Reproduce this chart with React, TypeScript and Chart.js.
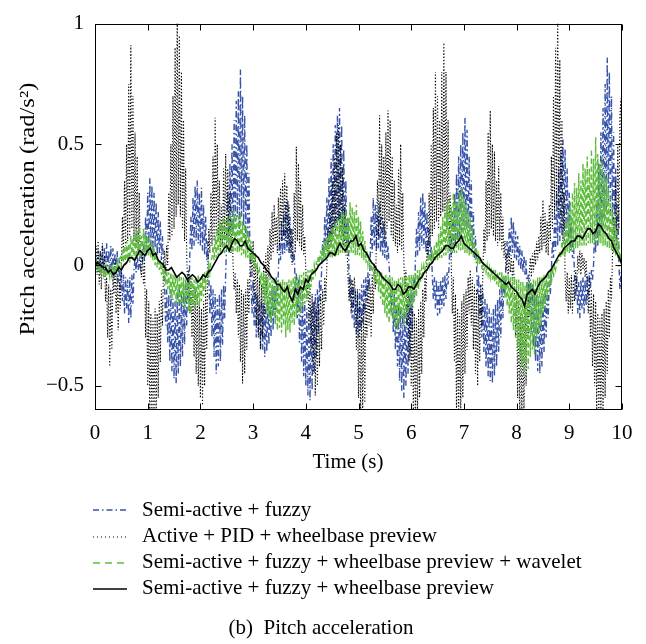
import React, { useEffect, useRef } from "react";
import { Chart, registerables } from "chart.js";

Chart.register(...registerables);

// sampling steps of the recorded signals (s)
const DT_FAST = 0.02;
const DT_SLOW = 0.05;

const X_TICKS = [0, 1, 2, 3, 4, 5, 6, 7, 8, 9, 10];
const Y_TICKS = [-0.5, 0, 0.5, 1];
const Y_TICK_LABELS = ["\u22120.5", "0", "0.5", "1"];

const X_TITLE = "Time (s)";
const Y_TITLE = "Pitch acceleration (rad/s\u00b2)";
const CAPTION = "(b)  Pitch acceleration";

const SERIES_NAMES = [
  "Semi-active + fuzzy",
  "Active + PID + wheelbase preview",
  "Semi-active + fuzzy + wheelbase preview + wavelet",
  "Semi-active + fuzzy + wheelbase preview",
];

// Semi-active + fuzzy (blue, dash-dot), step 0.02 s, one row = 0.5 s
const BLUE_FUZZY = [
  0, 0.04, -0.02, 0.06, -0.03, 0.05, -0.04, 0.08, -0.02, 0.07, -0.05, 0.09, -0.03, 0.06, -0.04, 0.08, -0.05, 0.07, -0.06, 0.05, -0.04, 0.06, -0.07, 0.03, -0.1,
  -0.02, -0.15, -0.04, -0.2, -0.05, -0.18, -0.06, -0.24, -0.05, -0.22, -0.04, -0.16, -0.02, 0.03, -0.03, 0.04, -0.02, 0.02, -0.01, 0.05, 0.01, 0.08, 0.02, 0.2, 0.05,
  0.3, 0.06, 0.36, 0.08, 0.33, 0.05, 0.3, 0.07, 0.26, 0.04, 0.22, 0.05, 0.18, 0.02, 0.12, 0.0, -0.08, -0.25, -0.1, -0.32, -0.12, -0.4, -0.1, -0.44, -0.14,
  -0.47, -0.15, -0.49, -0.12, -0.45, -0.1, -0.42, -0.12, -0.38, -0.08, -0.33, -0.06, -0.25, -0.04, -0.15, 0.05, 0.2, 0.06, 0.28, 0.08, 0.33, 0.1, 0.35, 0.09, 0.3,
  0.08, 0.32, 0.06, 0.25, 0.04, 0.2, 0.02, 0.1, -0.05, -0.2, -0.08, -0.3, -0.1, -0.38, -0.12, -0.45, -0.14, -0.42, -0.12, -0.4, -0.1, -0.33, -0.08, -0.22, -0.03,
  0.1, 0.3, 0.12, 0.42, 0.15, 0.5, 0.14, 0.6, 0.18, 0.68, 0.2, 0.72, 0.15, 0.81, 0.2, 0.7, 0.16, 0.62, 0.12, 0.5, 0.1, 0.38, 0.05, -0.08, -0.2,
  -0.06, -0.25, -0.1, -0.3, -0.12, -0.28, -0.15, -0.34, -0.14, -0.35, -0.16, -0.38, -0.18, -0.36, -0.14, -0.33, -0.12, -0.3, -0.1, -0.27, -0.08, -0.22, -0.05, -0.15, -0.02,
  0.1, 0.02, 0.18, 0.04, 0.22, 0.05, 0.25, 0.06, 0.27, 0.05, 0.2, 0.03, 0.15, 0.01, 0.06, -0.1, -0.03, -0.22, -0.06, -0.32, -0.1, -0.4, -0.12, -0.46, -0.15,
  -0.5, -0.18, -0.54, -0.2, -0.56, -0.17, -0.52, -0.15, -0.45, -0.12, -0.38, -0.1, -0.28, -0.06, -0.15, -0.02, 0.1, 0.03, 0.2, 0.06, 0.28, 0.08, 0.36, 0.1, 0.44,
  0.12, 0.5, 0.15, 0.58, 0.16, 0.62, 0.18, 0.65, 0.15, 0.58, 0.12, 0.48, 0.1, 0.35, 0.06, 0.2, -0.05, -0.15, -0.06, -0.22, -0.08, -0.26, -0.1, -0.28, -0.12,
  -0.3, -0.1, -0.27, -0.08, -0.24, -0.06, -0.2, -0.05, -0.15, -0.03, -0.1, 0.0, 0.2, 0.05, 0.28, 0.08, 0.25, 0.06, 0.22, 0.07, 0.26, 0.05, 0.2, 0.04, 0.18,
  0.03, 0.14, 0.02, 0.08, 0.0, -0.08, -0.2, -0.1, -0.28, -0.12, -0.35, -0.14, -0.42, -0.16, -0.48, -0.18, -0.52, -0.2, -0.55, -0.18, -0.5, -0.15, -0.45, -0.12, -0.38,
  -0.1, -0.28, -0.05, -0.15, 0.02, 0.15, 0.04, 0.22, 0.06, 0.28, 0.08, 0.3, 0.07, 0.26, 0.05, 0.22, 0.04, 0.15, 0.02, 0.08, -0.04, -0.14, -0.05, -0.18, -0.06,
  -0.21, -0.07, -0.2, -0.06, -0.18, -0.05, -0.17, -0.04, -0.14, -0.03, -0.08, 0.0, 0.12, 0.04, 0.22, 0.06, 0.3, 0.08, 0.38, 0.1, 0.45, 0.12, 0.5, 0.14, 0.55,
  0.15, 0.61, 0.16, 0.56, 0.12, 0.45, 0.1, 0.35, 0.06, 0.22, 0.03, 0.12, 0.0, -0.12, -0.04, -0.22, -0.08, -0.3, -0.1, -0.36, -0.14, -0.42, -0.16, -0.46, -0.18,
  -0.48, -0.2, -0.49, -0.18, -0.46, -0.16, -0.42, -0.14, -0.36, -0.1, -0.3, -0.08, -0.22, -0.05, -0.12, 0.02, 0.1, 0.03, 0.15, 0.04, 0.2, 0.05, 0.18, 0.03, 0.14,
  0.02, 0.12, 0.0, 0.08, -0.02, 0.06, -0.03, 0.04, -0.04, 0.02, -0.12, -0.04, -0.2, -0.06, -0.28, -0.08, -0.34, -0.1, -0.4, -0.12, -0.44, -0.15, -0.45, -0.14, -0.42,
  -0.12, -0.36, -0.1, -0.3, -0.08, -0.22, -0.05, -0.12, -0.02, 0.1, 0.03, 0.2, 0.06, 0.3, 0.08, 0.4, 0.1, 0.47, 0.12, 0.52, 0.14, 0.48, 0.12, 0.4, 0.1,
  0.3, 0.06, 0.2, 0.03, 0.1, -0.06, -0.14, -0.05, -0.2, -0.07, -0.22, -0.06, -0.18, -0.05, -0.2, -0.06, -0.17, -0.04, -0.14, -0.03, -0.1, -0.02, -0.06, 0.0, 0.15,
  0.05, 0.3, 0.08, 0.42, 0.12, 0.55, 0.15, 0.65, 0.2, 0.75, 0.22, 0.86, 0.25, 0.8, 0.22, 0.7, 0.18, 0.55, 0.12, 0.4, 0.08, 0.25, 0.02, -0.1, -0.03,
  -0.16,
];

// Active + PID + wheelbase preview (black, dotted), step 0.02 s, one row = 0.5 s
const DOTTED_PID = [
  0.0, 0.08, -0.04, 0.1, -0.08, 0.06, -0.1, 0.09, -0.05, 0.04, -0.15, -0.05, -0.3, -0.08, -0.42, -0.1, -0.35, -0.05, -0.12, 0.02, -0.2, -0.04, -0.27, -0.06, -0.18,
  -0.02, 0.2, 0.05, 0.35, 0.08, 0.5, 0.1, 0.75, 0.12, 0.91, 0.15, 0.7, 0.1, 0.55, 0.08, 0.45, 0.05, 0.3, 0.02, -0.05, 0.05, -0.08, 0.02, -0.3, -0.1,
  -0.5, -0.15, -0.65, -0.2, -0.65, -0.22, -0.65, -0.18, -0.65, -0.2, -0.55, -0.15, -0.4, -0.1, -0.25, 0.0, 0.06, -0.04, 0.08, 0.0, 0.3, 0.1, 0.5, 0.12, 0.7,
  0.15, 0.9, 0.2, 1.05, 0.25, 0.95, 0.2, 0.8, 0.15, 0.6, 0.1, 0.4, 0.05, -0.1, -0.02, -0.2, -0.05, -0.3, -0.08, -0.38, -0.1, -0.45, -0.12, -0.5, -0.15,
  -0.55, -0.18, -0.58, -0.15, -0.5, -0.1, -0.35, -0.02, 0.15, 0.05, 0.3, 0.08, 0.45, 0.1, 0.61, 0.12, 0.5, 0.1, 0.35, 0.06, 0.25, 0.08, 0.4, 0.1, 0.46,
  0.12, 0.4, 0.08, 0.3, 0.05, 0.18, 0.0, -0.1, -0.03, -0.2, -0.06, -0.3, -0.08, -0.4, -0.1, -0.49, -0.12, -0.45, -0.1, -0.35, -0.06, -0.2, -0.02, 0.08, -0.05,
  0.1, -0.15, 0.05, -0.25, 0.0, -0.3, -0.05, -0.35, -0.08, -0.3, 0.02, -0.22, 0.05, -0.12, 0.08, -0.05, 0.15, 0.02, 0.22, 0.05, 0.25, 0.08, 0.2, 0.05, 0.28,
  0.08, 0.32, 0.1, 0.35, 0.12, 0.38, 0.1, 0.33, 0.08, 0.25, 0.05, 0.15, 0.0, 0.1, 0.3, 0.05, 0.49, 0.1, 0.42, 0.08, 0.35, 0.06, 0.25, 0.04, 0.12,
  -0.02, -0.15, -0.05, -0.25, -0.08, -0.35, -0.12, -0.45, -0.15, -0.54, -0.18, -0.5, -0.15, -0.42, -0.12, -0.35, -0.1, -0.25, -0.05, -0.15, 0.0, 0.15, 0.05, 0.25, 0.08,
  0.35, 0.1, 0.45, 0.12, 0.55, 0.15, 0.58, 0.12, 0.5, 0.1, 0.4, 0.08, 0.25, 0.04, 0.1, -0.05, -0.15, -0.04, -0.2, -0.06, -0.18, -0.05, -0.12, -0.35, -0.1,
  -0.55, -0.15, -0.65, -0.2, -0.62, -0.15, -0.57, -0.1, -0.3, -0.05, -0.25, -0.08, -0.3, -0.04, -0.2, 0.0, -0.1, 0.1, 0.35, 0.12, 0.62, 0.15, 0.5, 0.12, 0.45,
  0.1, 0.55, 0.15, 0.64, 0.18, 0.6, 0.12, 0.45, 0.1, 0.35, 0.08, 0.25, 0.05, 0.4, 0.08, 0.5, 0.06, 0.3, 0.02, -0.1, -0.02, -0.25, -0.08, -0.4, -0.12,
  -0.5, -0.15, -0.6, -0.2, -0.65, -0.22, -0.62, -0.18, -0.55, -0.15, -0.45, -0.1, -0.3, -0.05, -0.15, 0.1, 0.02, 0.3, 0.08, 0.5, 0.12, 0.65, 0.15, 0.8, 0.18,
  0.7, 0.15, 0.6, 0.2, 0.8, 0.22, 0.92, 0.2, 0.8, 0.15, 0.6, 0.1, 0.3, 0.0, -0.2, -0.05, -0.4, -0.12, -0.62, -0.18, -0.65, -0.2, -0.62, -0.15, -0.55,
  -0.12, -0.45, -0.1, -0.35, -0.05, -0.2, -0.02, -0.25, -0.05, -0.35, -0.08, -0.45, -0.1, -0.5, -0.12, -0.4, -0.08, -0.25, -0.03, 0.15, 0.05, 0.35, 0.1, 0.55, 0.12,
  0.64, 0.15, 0.5, 0.12, 0.47, 0.1, 0.35, 0.08, 0.41, 0.1, 0.3, 0.06, 0.2, 0.03, 0.1, -0.02, 0.05, -0.04, 0.06, -0.03, 0.04, -0.06, 0.02, -0.1, -0.3,
  -0.1, -0.55, -0.15, -0.65, -0.2, -0.65, -0.22, -0.62, -0.15, -0.5, -0.1, -0.3, -0.04, 0.03, -0.05, 0.05, -0.03, 0.06, 0.0, 0.1, 0.02, 0.12, 0.05, 0.2, 0.06,
  0.27, 0.08, 0.22, 0.05, 0.18, 0.04, 0.25, 0.1, 0.45, 0.15, 0.7, 0.2, 0.9, 0.25, 1.05, 0.22, 0.85, 0.15, 0.6, 0.1, 0.3, -0.05, -0.15, -0.03, -0.2,
  -0.05, -0.18, -0.04, -0.2, -0.06, -0.15, -0.02, -0.1, 0.04, -0.03, 0.06, -0.04, 0.05, -0.02, 0.03, -0.05, 0.02, -0.08, -0.2, -0.05, -0.3, -0.1, -0.42, -0.12, -0.5,
  -0.15, -0.6, -0.2, -0.65, -0.22, -0.65, -0.2, -0.62, -0.18, -0.55, -0.15, -0.45, -0.1, -0.3, -0.05, -0.15, 0.05, 0.2, 0.08, 0.35, 0.1, 0.5, 0.15, 0.62, 0.69,
  0.2,
];

// Semi-active + fuzzy + wheelbase preview + wavelet (green, dashed), step 0.02 s, one row = 0.5 s
const GREEN_WAVELET = [
  0.0, 0.02, -0.01, 0.01, -0.02, 0.0, -0.03, -0.01, -0.04, 0.0, -0.05, -0.01, -0.04, -0.02, -0.05, 0.0, -0.04, -0.01, -0.05, 0.0, -0.03, 0.01, -0.02, 0.02, 0.03,
  0.0, 0.06, 0.01, 0.08, 0.0, 0.1, 0.02, 0.09, 0.01, 0.12, 0.03, 0.11, 0.02, 0.13, 0.03, 0.14, 0.04, 0.16, 0.03, 0.12, 0.04, 0.15, 0.05, 0.13, 0.04,
  0.12, 0.04, 0.11, 0.03, 0.09, 0.02, 0.07, 0.0, 0.05, -0.01, 0.03, -0.02, 0.02, -0.04, 0.0, -0.06, -0.01, -0.08, -0.02, -0.1, -0.03, -0.12, -0.03, -0.14, -0.04,
  -0.13, -0.04, -0.16, -0.05, -0.15, -0.04, -0.17, -0.05, -0.16, -0.05, -0.18, -0.06, -0.15, -0.05, -0.19, -0.06, -0.2, -0.05, -0.17, -0.06, -0.18, -0.05, -0.16, -0.04, -0.17,
  -0.05, -0.15, -0.04, -0.13, -0.03, -0.1, -0.02, -0.07, 0.0, -0.03, 0.02, 0.03, 0.08, 0.02, 0.12, 0.03, 0.15, 0.04, 0.18, 0.04, 0.17, 0.05, 0.2, 0.05, 0.18,
  0.06, 0.2, 0.05, 0.22, 0.06, 0.19, 0.05, 0.23, 0.06, 0.21, 0.05, 0.2, 0.05, 0.22, 0.04, 0.18, 0.04, 0.17, 0.03, 0.15, 0.03, 0.12, 0.02, 0.1, 0.01,
  0.06, 0.0, 0.03, -0.02, 0.0, -0.04, -0.02, -0.08, -0.03, -0.12, -0.03, -0.16, -0.04, -0.2, -0.05, -0.22, -0.05, -0.24, -0.06, -0.21, -0.05, -0.25, -0.06, -0.27, -0.06,
  -0.26, -0.07, -0.28, -0.06, -0.25, -0.07, -0.3, -0.07, -0.27, -0.06, -0.28, -0.06, -0.24, -0.05, -0.25, -0.05, -0.22, -0.05, -0.2, -0.04, -0.2, -0.04, -0.17, -0.03, -0.16,
  -0.03, -0.14, -0.02, -0.12, -0.02, -0.09, -0.01, -0.06, 0.0, -0.03, 0.01, 0.0, 0.04, 0.01, 0.06, 0.02, 0.08, 0.02, 0.1, 0.02, 0.12, 0.03, 0.13, 0.03, 0.15,
  0.03, 0.16, 0.04, 0.18, 0.04, 0.2, 0.04, 0.19, 0.05, 0.22, 0.05, 0.21, 0.05, 0.23, 0.05, 0.2, 0.05, 0.26, 0.05, 0.24, 0.05, 0.22, 0.04, 0.25, 0.04,
  0.2, 0.04, 0.18, 0.03, 0.14, 0.02, 0.1, 0.01, 0.06, 0.0, 0.03, -0.01, 0.0, -0.03, -0.01, -0.06, -0.02, -0.08, -0.02, -0.11, -0.03, -0.14, -0.03, -0.17, -0.04,
  -0.2, -0.04, -0.22, -0.05, -0.24, -0.05, -0.21, -0.05, -0.23, -0.06, -0.26, -0.06, -0.27, -0.05, -0.24, -0.05, -0.22, -0.05, -0.25, -0.05, -0.21, -0.05, -0.2, -0.04, -0.18,
  -0.04, -0.17, -0.04, -0.15, -0.03, -0.13, -0.02, -0.1, -0.02, -0.07, -0.01, -0.04, 0.0, -0.02, 0.01, 0.0, 0.03, 0.0, 0.05, 0.01, 0.06, 0.02, 0.08, 0.02, 0.1,
  0.02, 0.13, 0.03, 0.16, 0.03, 0.2, 0.04, 0.22, 0.04, 0.25, 0.05, 0.27, 0.05, 0.24, 0.05, 0.3, 0.05, 0.28, 0.05, 0.26, 0.06, 0.3, 0.06, 0.32, 0.06,
  0.28, 0.05, 0.25, 0.05, 0.22, 0.04, 0.2, 0.04, 0.15, 0.03, 0.1, 0.02, 0.07, 0.01, 0.04, 0.0, 0.02, -0.01, 0.0, -0.02, -0.01, -0.03, 0.0, -0.04, -0.01,
  -0.05, -0.01, -0.06, -0.02, -0.07, -0.02, -0.08, -0.03, -0.09, -0.03, -0.1, -0.03, -0.12, -0.04, -0.14, -0.04, -0.17, -0.04, -0.2, -0.05, -0.24, -0.05, -0.27, -0.05, -0.3,
  -0.06, -0.34, -0.06, -0.38, -0.07, -0.42, -0.07, -0.46, -0.08, -0.4, -0.07, -0.43, -0.07, -0.38, -0.07, -0.35, -0.06, -0.37, -0.06, -0.3, -0.05, -0.28, -0.05, -0.25, -0.05,
  -0.2, -0.04, -0.18, -0.04, -0.14, -0.03, -0.11, -0.02, -0.08, -0.01, -0.05, 0.0, -0.02, 0.01, 0.02, 0.02, 0.06, 0.03, 0.1, 0.04, 0.14, 0.04, 0.18, 0.05, 0.22,
  0.05, 0.26, 0.06, 0.3, 0.06, 0.34, 0.07, 0.32, 0.07, 0.38, 0.08, 0.35, 0.08, 0.42, 0.08, 0.4, 0.08, 0.45, 0.09, 0.4, 0.09, 0.48, 0.09, 0.44, 0.09,
  0.53, 0.09, 0.46, 0.09, 0.42, 0.09, 0.45, 0.08, 0.38, 0.08, 0.36, 0.07, 0.32, 0.07, 0.28, 0.06, 0.24, 0.05, 0.2, 0.04, 0.15, 0.03, 0.1, 0.02, 0.05,
  0.0,
];

// Semi-active + fuzzy + wheelbase preview (black, solid), step 0.05 s, one row = 1 s
const BLACK_PREVIEW = [
  0.0, 0.01, 0.0, -0.01, -0.01, -0.03, -0.02, -0.04, -0.03, -0.01, -0.02, 0.0, 0.01, 0.03, 0.03, 0.02, 0.04, 0.06, 0.05, 0.04,
  0.06, 0.07, 0.04, 0.05, 0.02, 0.01, 0.0, -0.02, -0.02, -0.01, -0.03, -0.05, -0.04, -0.03, -0.04, -0.06, -0.05, -0.04, -0.05, -0.07,
  -0.06, -0.04, -0.05, -0.03, -0.02, 0.0, 0.02, 0.04, 0.05, 0.07, 0.08, 0.06, 0.09, 0.11, 0.1, 0.08, 0.08, 0.1, 0.07, 0.06,
  0.05, 0.04, 0.03, 0.01, 0.0, -0.02, -0.03, -0.05, -0.06, -0.08, -0.08, -0.1, -0.11, -0.09, -0.13, -0.15, -0.1, -0.12, -0.09, -0.1,
  -0.06, -0.07, -0.04, -0.03, -0.02, 0.0, 0.01, 0.02, 0.03, 0.05, 0.05, 0.04, 0.07, 0.09, 0.07, 0.06, 0.08, 0.1, 0.1, 0.12,
  0.08, 0.09, 0.06, 0.05, 0.03, 0.01, 0.0, -0.02, -0.03, -0.05, -0.06, -0.07, -0.08, -0.1, -0.1, -0.08, -0.09, -0.12, -0.11, -0.09,
  -0.09, -0.1, -0.08, -0.06, -0.05, -0.03, -0.02, 0.0, 0.01, 0.03, 0.04, 0.05, 0.06, 0.08, 0.08, 0.07, 0.07, 0.09, 0.1, 0.12,
  0.09, 0.08, 0.07, 0.06, 0.05, 0.04, 0.03, 0.01, 0.0, -0.01, -0.02, -0.03, -0.04, -0.05, -0.06, -0.07, -0.08, -0.07, -0.09, -0.1,
  -0.11, -0.13, -0.14, -0.17, -0.12, -0.11, -0.1, -0.12, -0.09, -0.07, -0.06, -0.05, -0.03, -0.02, 0.0, 0.02, 0.04, 0.05, 0.07, 0.08,
  0.09, 0.1, 0.1, 0.12, 0.12, 0.11, 0.13, 0.15, 0.15, 0.13, 0.14, 0.17, 0.16, 0.14, 0.13, 0.11, 0.1, 0.07, 0.05, 0.03,
  0.0,
];

const COLORS = ["#3854aa", "#000000", "#5fbd3e", "#000000"];
const DASHES: number[][] = [[6, 3, 1.5, 3], [1.2, 2], [5, 3], []];
const LEGEND_DASHES: number[][] = [[6, 3, 1.5, 3], [1, 3], [7, 5], []];
const WIDTHS = [1.4, 1.1, 1.4, 1.6];
const FONT = "'Liberation Serif', 'Times New Roman', serif";
const FONT_SIZE = 21;

const toPoints = (vals: number[], dt: number) =>
  vals.map((v, i) => ({ x: Math.round(i * dt * 1000) / 1000, y: v }));

const framePlugin = {
  id: "matlabFrame",
  afterDatasetsDraw(chart: any) {
    const { ctx, chartArea: a, scales } = chart;
    ctx.save();
    ctx.setLineDash([]);
    ctx.strokeStyle = "#000";
    ctx.lineWidth = 1;
    const L = Math.round(a.left) + 0.5;
    const R = Math.round(a.right) - 0.5;
    const T = Math.round(a.top) + 0.5;
    const B = Math.round(a.bottom) - 0.5;
    ctx.strokeRect(L, T, R - L, B - T);
    const tl = 6;
    ctx.beginPath();
    X_TICKS.forEach((v) => {
      const px = Math.round(scales.x.getPixelForValue(v)) + 0.5;
      ctx.moveTo(px, B);
      ctx.lineTo(px, B - tl);
      ctx.moveTo(px, T);
      ctx.lineTo(px, T + tl);
    });
    Y_TICKS.forEach((v) => {
      const py = Math.round(scales.y.getPixelForValue(v)) + 0.5;
      ctx.moveTo(L, py);
      ctx.lineTo(L + tl, py);
      ctx.moveTo(R, py);
      ctx.lineTo(R - tl, py);
    });
    ctx.stroke();
    ctx.restore();
  },
  afterDraw(chart: any) {
    const { ctx } = chart;
    ctx.save();
    ctx.setTransform(1, 0, 0, 1, 0, 0);
    ctx.fillStyle = "#000";
    ctx.font = `${FONT_SIZE}px ${FONT}`;
    ctx.textAlign = "center";
    ctx.textBaseline = "middle";
    // x title
    ctx.fillText(X_TITLE, 348, 462);
    // y title (the source figure is stretched along this label)
    ctx.save();
    ctx.translate(28, 209);
    ctx.rotate(-Math.PI / 2);
    ctx.scale(1.17, 1);
    ctx.textAlign = "center";
    ctx.fillText(Y_TITLE, 0, 0);
    ctx.restore();
    // legend
    const rows = [510, 536.5, 562.5, 588.5];
    SERIES_NAMES.forEach((name, i) => {
      const y = Math.round(rows[i]);
      ctx.beginPath();
      ctx.setLineDash(LEGEND_DASHES[i]);
      ctx.strokeStyle = COLORS[i];
      ctx.lineWidth = i === 1 ? 1.2 : 1.6;
      ctx.moveTo(93, y);
      ctx.lineTo(127, y);
      ctx.stroke();
      ctx.setLineDash([]);
      ctx.textAlign = "left";
      ctx.fillText(name, 142, rows[i]);
    });
    // caption
    ctx.textAlign = "center";
    ctx.fillText(CAPTION, 321, 628);
    ctx.restore();
  },
};

export default function App() {
  const ref = useRef<HTMLCanvasElement>(null);
  useEffect(() => {
    document.body.style.margin = "0";
    const canvas = ref.current;
    if (!canvas) return;
    const series = [BLUE_FUZZY, DOTTED_PID, GREEN_WAVELET, BLACK_PREVIEW];
    const steps = [DT_FAST, DT_FAST, DT_FAST, DT_SLOW];
    const orders = [3, 2, 1, 0];
    const chart = new Chart(canvas, {
      type: "line",
      data: {
        datasets: series.map((vals, i) => ({
          label: SERIES_NAMES[i],
          data: toPoints(vals, steps[i]),
          borderColor: COLORS[i],
          backgroundColor: COLORS[i],
          borderWidth: WIDTHS[i],
          borderDash: DASHES[i],
          pointRadius: 0,
          tension: 0,
          fill: false,
          clip: 0,
          order: orders[i],
        })),
      },
      options: {
        responsive: false,
        animation: false,
        devicePixelRatio: 1,
        layout: { padding: { left: 0, top: 18, right: 24, bottom: 174 } },
        plugins: {
          legend: { display: false },
          tooltip: { enabled: false },
        },
        scales: {
          x: {
            type: "linear",
            min: 0,
            max: 10,
            grid: { display: false, drawTicks: false },
            border: { display: false },
            afterBuildTicks: (s: any) => {
              s.ticks = X_TICKS.map((v) => ({ value: v }));
            },
            afterFit: (s: any) => {
              s.height = 60;
            },
            ticks: {
              padding: 11,
              color: "#000",
              maxRotation: 0,
              autoSkip: false,
              font: { family: FONT, size: FONT_SIZE },
              callback: (v: any) => String(v),
            },
          },
          y: {
            type: "linear",
            min: -0.6,
            max: 1,
            grid: { display: false, drawTicks: false },
            border: { display: false },
            afterBuildTicks: (s: any) => {
              s.ticks = Y_TICKS.map((v) => ({ value: v }));
            },
            afterFit: (s: any) => {
              s.width = 95;
            },
            ticks: {
              padding: 11,
              color: "#000",
              autoSkip: false,
              font: { family: FONT, size: FONT_SIZE },
              callback: (v: any) => {
                const k = Y_TICKS.indexOf(Number(v));
                return k >= 0 ? Y_TICK_LABELS[k] : "";
              },
            },
          },
        },
      },
      plugins: [framePlugin],
    });
    return () => chart.destroy();
  }, []);
  return <canvas ref={ref} width={646} height={644} style={{ display: "block" }} />;
}
